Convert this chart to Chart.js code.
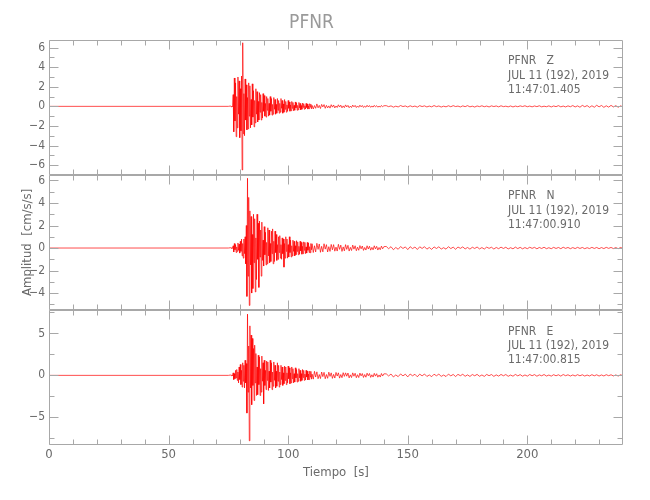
<!DOCTYPE html>
<html>
<head>
<meta charset="utf-8">
<title>PFNR</title>
<script src="https://cdn.jsdelivr.net/npm/chart.js@4.4.1/dist/chart.umd.min.js"></script>
<style>
  body { margin: 0; background: #fff; }
  #wrap { width: 650px; height: 500px; }
</style>
</head>
<body>
<div id="wrap"><canvas id="seis" width="650" height="500"></canvas></div>
<script>
'use strict';

// sampling grid of the hand-read traces (seconds)
const quietTimes = [0, 75];
const strongStart = 76, strongStep = 0.25;  // 76 .. 110 s
const midStart = 110.5, midStep = 0.5;      // 110.5 .. 140 s
const tailStart = 141, tailStep = 1;        // 141 .. 240 s

// component Z, amplitude in cm/s/s
const zStrong = [
  0.04, -0.05, 0.03, -0.04, 1.2, -2.6, 2.9, -1.5, 2.4, -3.1, 1.0, -2.2,
  3.0, -0.8, 2.6, -3.2, 1.8, -2.5, 3.1, -6.5, 6.5, -2.8, 1.3, -3.0,
  2.8, -1.4, 2.2, -2.4, 0.9, -2.3, 2.4, -1.0, 2.1, -2.2, 0.7, -1.9,
  2.3, -1.1, 1.6, -2.1, 0.6, -1.7, 1.8, -0.8, 1.5, -1.6, 0.5, -1.4,
  1.4, -0.6, 1.2, -1.4, 0.4, -1.2, 1.3, -0.5, 1.1, -1.0, 0.3, -1.1,
  1.0, -0.4, 0.8, -1.0, 0.3, -0.9, 1.0, -0.5, 0.8, -0.9, 0.2, -0.8,
  0.9, -0.3, 0.7, -0.8, 0.2, -0.7, 0.8, -0.4, 0.6, -0.7, 0.3, -0.6,
  0.8, -0.2, 0.6, -0.7, 0.25, -0.6, 0.7, -0.3, 0.5, -0.6, 0.15, -0.5,
  0.6, -0.2, 0.45, -0.5, 0.15, -0.45, 0.5, -0.2, 0.4, -0.45, 0.1, -0.4,
  0.45, -0.15, 0.35, -0.4, 0.1, -0.35, 0.4, -0.15, 0.3, -0.35, 0.08, -0.3,
  0.33, -0.1, 0.28, -0.3, 0.06, -0.27, 0.3, -0.12, 0.25, -0.28, 0.05, -0.24,
  0.27, -0.08, 0.22, -0.25, 0.1
];
const zMid = [
  -0.27, 0.08, -0.2, 0.25, -0.15, 0.1, -0.22,
  0.2, -0.06, 0.18, -0.2, 0.1, -0.16, 0.05, -0.18, 0.17, -0.08,
  0.14, -0.16, 0.04, -0.12, 0.16, -0.07, 0.12, -0.15, 0.05, -0.13,
  0.15, -0.06, 0.1, -0.14, 0.03, -0.12, 0.13, -0.05, 0.1, -0.12,
  0.04, -0.1, 0.12, -0.05, 0.09, -0.11, 0.03, -0.09, 0.11, -0.06,
  0.08, -0.1, 0.04, -0.08, 0.1, -0.05, 0.07, -0.09, 0.03, -0.08,
  0.09, -0.04, 0.06
];
const zTail = [
  0.07, -0.03, 0.05, -0.08, 0.02, -0.06, 0.08, -0.02, 0.04, -0.07,
  0.06, -0.04, 0.03, -0.08, 0.07, -0.02, 0.05, -0.06, 0.03, -0.05,
  0.08, -0.03, 0.04, -0.07, 0.02, -0.05, 0.06, -0.04, 0.07, -0.02,
  0.03, -0.06, 0.05, -0.03, 0.07, -0.05, 0.02, -0.07, 0.04, -0.03,
  0.06, -0.04, 0.03, -0.06, 0.05, -0.02, 0.04, -0.05, 0.06, -0.03,
  0.02, -0.05, 0.04, -0.06, 0.03, -0.04, 0.05, -0.02, 0.06, -0.04,
  0.03, -0.05, 0.04, -0.03, 0.06, -0.05, 0.02, -0.04, 0.05, -0.06,
  0.04, -0.03, 0.07, -0.05, 0.03, -0.06, 0.05, -0.04, 0.08, -0.06,
  0.05, -0.09, 0.1, -0.04, 0.08, -0.1, 0.06, -0.09, 0.11, -0.05,
  0.09, -0.1, 0.06, -0.08, 0.1, -0.06, 0.07, -0.09, 0.05, -0.06
];

// component N
const nStrong = [
  0.03, -0.04, 0.05, -0.03, 0.2, -0.35, 0.4, -0.15, 0.3, -0.4, 0.1, -0.3,
  0.45, -0.2, 0.35, -0.45, 0.6, -0.3, 0.8, -0.7, 0.4, -0.9, 0.8, -0.5,
  1.0, -1.4, 2.0, -4.3, 6.2, -2.5, 4.5, -5.1, 3.3, -1.5, 2.8, -4.0,
  1.2, -3.6, 3.0, -1.3, 2.6, -3.9, 0.9, -2.8, 3.0, -1.0, 2.2, -3.5,
  2.4, -0.8, 1.6, -2.5, 2.3, -1.1, 0.7, -1.6, 1.9, -0.6, 1.4, -1.5,
  0.5, -1.4, 1.8, -0.7, 1.6, -1.3, 0.4, -1.2, 1.5, -0.5, 1.7, -1.4,
  0.6, -1.2, 1.5, -0.4, 1.2, -1.1, 0.3, -1.0, 1.0, -0.4, 1.1, -0.9,
  0.3, -1.0, 0.9, -0.5, 0.8, -1.7, 0.4, -0.9, 1.0, -0.3, 0.8, -0.9,
  0.3, -0.8, 1.0, -0.4, 0.7, -0.8, 0.2, -0.7, 0.7, -0.3, 0.6, -0.7,
  0.2, -0.6, 0.65, -0.3, 0.55, -0.6, 0.15, -0.55, 0.6, -0.25, 0.5, -0.55,
  0.15, -0.5, 0.55, -0.2, 0.5, -0.5, 0.1, -0.45, 0.5, -0.2, 0.45, -0.4,
  0.12, -0.42, 0.4, -0.15, 0.38
];
const nMid = [
  -0.4, 0.2, -0.35, 0.42, -0.12, 0.36, -0.38,
  0.15, -0.34, 0.38, -0.1, 0.3, -0.35, 0.12, -0.3, 0.32, -0.16,
  0.3, -0.28, 0.08, -0.27, 0.33, -0.12, 0.26, -0.3, 0.1, -0.25,
  0.3, -0.12, 0.24, -0.27, 0.06, -0.22, 0.26, -0.1, 0.2, -0.24,
  0.08, -0.2, 0.22, -0.07, 0.18, -0.21, 0.05, -0.18, 0.2, -0.09,
  0.16, -0.19, 0.06, -0.16, 0.2, -0.08, 0.15, -0.18, 0.05, -0.15,
  0.17, -0.07, 0.12
];
const nTail = [
  0.14, -0.06, 0.12, -0.15, 0.05, -0.11, 0.13, -0.04, 0.1, -0.14,
  0.12, -0.05, 0.09, -0.13, 0.11, -0.04, 0.12, -0.1, 0.05, -0.12,
  0.1, -0.04, 0.11, -0.09, 0.03, -0.1, 0.12, -0.05, 0.08, -0.11,
  0.09, -0.03, 0.1, -0.08, 0.05, -0.1, 0.07, -0.04, 0.09, -0.08,
  0.04, -0.09, 0.08, -0.03, 0.07, -0.09, 0.05, -0.06, 0.08, -0.04,
  0.07, -0.08, 0.03, -0.07, 0.08, -0.05, 0.06, -0.07, 0.04, -0.06,
  0.07, -0.03, 0.06, -0.07, 0.05, -0.04, 0.07, -0.06, 0.03, -0.06,
  0.06, -0.04, 0.05, -0.06, 0.07, -0.03, 0.05, -0.06, 0.04, -0.05,
  0.06, -0.04, 0.05, -0.06, 0.03, -0.05, 0.06, -0.04, 0.05, -0.06,
  0.04, -0.05, 0.06, -0.03, 0.05, -0.05, 0.04, -0.06, 0.05, -0.04
];

// component E
const eStrong = [
  0.05, -0.04, 0.06, -0.05, 0.3, -0.5, 0.2, -0.4, 0.6, -0.3, 0.7, -0.6,
  0.4, -0.9, 1.0, -0.5, 1.3, -1.1, 0.6, -1.4, 1.5, -0.7, 1.2, -1.5,
  1.8, -0.9, 1.4, -4.5, 7.3, -2.0, 3.5, -7.8, 5.9, -1.5, 4.8, -3.5,
  4.4, -1.2, 3.2, -3.0, 3.6, -0.9, 2.6, -2.4, 1.0, -2.3, 2.4, -1.1,
  2.2, -2.4, 0.8, -2.0, 2.3, -0.7, 1.5, -3.4, 1.8, -1.2, 0.6, -1.7,
  1.7, -0.6, 1.6, -1.8, 0.5, -1.5, 1.8, -0.8, 1.5, -1.7, 0.4, -1.3,
  1.6, -0.6, 1.2, -1.5, 0.5, -1.3, 1.5, -0.7, 1.2, -1.4, 0.4, -1.1,
  1.2, -0.5, 1.0, -1.2, 0.3, -1.0, 1.1, -0.6, 1.0, -1.1, 0.3, -0.9,
  1.1, -0.4, 0.9, -1.0, 0.3, -0.9, 1.0, -0.4, 0.8, -0.9, 0.2, -0.8,
  0.9, -0.3, 0.7, -0.8, 0.2, -0.7, 0.8, -0.3, 0.6, -0.7, 0.2, -0.6,
  0.7, -0.25, 0.6, -0.6, 0.15, -0.55, 0.6, -0.2, 0.5, -0.55, 0.15, -0.5,
  0.5, -0.2, 0.48, -0.45, 0.15
];
const eMid = [
  -0.45, 0.48, -0.2, 0.42, -0.4, 0.1, -0.38,
  0.4, -0.15, 0.36, -0.4, 0.1, -0.35, 0.38, -0.12, 0.3, -0.36,
  0.12, -0.32, 0.35, -0.08, 0.3, -0.33, 0.1, -0.28, 0.32, -0.12,
  0.3, -0.1, 0.28, -0.3, 0.06, -0.26, 0.3, -0.1, 0.25, -0.28,
  0.08, -0.26, 0.27, -0.06, 0.22, -0.25, 0.1, -0.22, 0.26, -0.05,
  0.22, -0.24, 0.07, -0.2, 0.24, -0.09, 0.2, -0.22, 0.05, -0.2,
  0.22, -0.08, 0.18
];
const eTail = [
  0.18, -0.07, 0.16, -0.19, 0.05, -0.15, 0.17, -0.06, 0.14, -0.18,
  0.16, -0.05, 0.13, -0.17, 0.15, -0.06, 0.16, -0.13, 0.05, -0.15,
  0.14, -0.05, 0.15, -0.12, 0.04, -0.14, 0.15, -0.06, 0.11, -0.14,
  0.12, -0.04, 0.13, -0.11, 0.06, -0.13, 0.1, -0.05, 0.12, -0.11,
  0.05, -0.12, 0.11, -0.04, 0.1, -0.12, 0.06, -0.09, 0.11, -0.05,
  0.1, -0.11, 0.04, -0.1, 0.11, -0.06, 0.09, -0.1, 0.05, -0.09,
  0.1, -0.04, 0.09, -0.1, 0.06, -0.05, 0.1, -0.08, 0.04, -0.09,
  0.08, -0.05, 0.07, -0.09, 0.1, -0.04, 0.07, -0.08, 0.05, -0.07,
  0.08, -0.05, 0.07, -0.08, 0.04, -0.07, 0.08, -0.05, 0.07, -0.08,
  0.05, -0.07, 0.08, -0.04, 0.07, -0.07, 0.05, -0.08, 0.07, -0.05
];

// axis ticks
const xTickValues = [0, 50, 100, 150, 200];
const xMinorValues = [10, 20, 30, 40, 60, 70, 80, 90, 110, 120, 130, 140, 160, 170, 180, 190, 210, 220, 230];
const zTickValues = [-6, -4, -2, 0, 2, 4, 6];
const zMinorValues = [-5, -3, -1, 1, 3, 5];
const nTickValues = [-4, -2, 0, 2, 4, 6];
const nMinorValues = [-5, -3, -1, 1, 3, 5];
const eTickValues = [-5, 0, 5];
const eMinorValues = [-7.5, -2.5, 2.5, 7.5];

// station header text for each trace
const zHeader = ['PFNR   Z', 'JUL 11 (192), 2019', '11:47:01.405'];
const nHeader = ['PFNR   N', 'JUL 11 (192), 2019', '11:47:00.910'];
const eHeader = ['PFNR   E', 'JUL 11 (192), 2019', '11:47:00.815'];

const FONT = "'Liberation Sans Narrow', 'DejaVu Sans Condensed', sans-serif";
const AXIS = '#a8a8a8';
const TEXT = '#6a6a6a';

function toPoints(strong, mid, tail) {
  const pts = quietTimes.map(t => ({x: t, y: 0}));
  strong.forEach((v, i) => pts.push({x: strongStart + i * strongStep, y: v}));
  mid.forEach((v, i) => pts.push({x: midStart + i * midStep, y: v}));
  tail.forEach((v, i) => pts.push({x: tailStart + i * tailStep, y: v}));
  return pts;
}

const panels = [
  {id: 'yZ', major: zTickValues, minor: zMinorValues, header: zHeader},
  {id: 'yN', major: nTickValues, minor: nMinorValues, header: nHeader},
  {id: 'yE', major: eTickValues, minor: eMinorValues, header: eHeader},
];

const minusSign = v => String(v).replace('-', '\u2212');

function yAxis(min, max, ticks, weight, title) {
  return {
    type: 'linear',
    position: 'left',
    stack: 'traces',
    stackWeight: 1,
    weight: weight,
    min: min,
    max: max,
    afterBuildTicks: s => { s.ticks = ticks.map(v => ({value: v})); },
    afterFit: s => { s.width = 49; },
    grid: {display: false, drawTicks: false},
    border: {display: false},
    ticks: {color: TEXT, font: {family: FONT, size: 12}, padding: 4, autoSkip: false, callback: minusSign},
    title: title ? {
      display: true, text: title, color: TEXT,
      font: {family: FONT, size: 13}, padding: {top: 20, bottom: 0}
    } : {display: false},
  };
}

// frame, inward tick marks and station labels for each panel
const framePlugin = {
  id: 'frame',
  afterDraw(chart) {
    const {ctx, chartArea} = chart;
    const xs = chart.scales.x;
    const px = v => Math.round(v) + 0.5;
    const L = px(chartArea.left), R = px(chartArea.right - 1);
    ctx.save();
    ctx.strokeStyle = AXIS;
    ctx.lineWidth = 1;
    panels.forEach(p => {
      const s = chart.scales[p.id];
      const T = px(s.top), B = px(s.bottom - 1);
      ctx.beginPath();
      ctx.rect(L, T, R - L, B - T);
      const yTick = (v, len) => {
        const y = px(s.getPixelForValue(v));
        ctx.moveTo(L, y); ctx.lineTo(L + len, y);
        ctx.moveTo(R, y); ctx.lineTo(R - len, y);
      };
      const xTick = (v, len) => {
        const x = px(xs.getPixelForValue(v));
        ctx.moveTo(x, T); ctx.lineTo(x, T + len);
        ctx.moveTo(x, B); ctx.lineTo(x, B - len);
      };
      p.major.forEach(v => yTick(v, 9));
      p.minor.forEach(v => yTick(v, 5));
      xTickValues.forEach(v => xTick(v, 9));
      xMinorValues.forEach(v => xTick(v, 5));
      ctx.stroke();

      ctx.fillStyle = TEXT;
      ctx.font = '12px ' + FONT;
      ctx.textBaseline = 'middle';
      ctx.textAlign = 'left';
      p.header.forEach((line, k) => {
        ctx.fillText(line, 508, s.top + 21.5 + k * 14.2);
      });
    });
    ctx.restore();
  }
};

const trace = (data, axis) => ({
  data: data,
  yAxisID: axis,
  borderColor: 'rgb(255,0,0)',
  borderWidth: 0.7,
  pointRadius: 0,
  tension: 0,
  fill: false,
});

new Chart(document.getElementById('seis'), {
  type: 'line',
  data: {
    datasets: [
      trace(toPoints(zStrong, zMid, zTail), 'yZ'),
      trace(toPoints(nStrong, nMid, nTail), 'yN'),
      trace(toPoints(eStrong, eMid, eTail), 'yE'),
    ]
  },
  options: {
    responsive: false,
    animation: false,
    parsing: false,
    layout: {padding: {left: 0, right: 27, top: 0, bottom: 0}},
    plugins: {
      legend: {display: false},
      tooltip: {enabled: false},
      title: {
        display: true,
        text: 'PFNR',
        color: '#9a9a9a',
        font: {family: FONT, size: 19, weight: 'normal'},
        padding: {top: 12, bottom: 5}
      }
    },
    scales: {
      x: {
        type: 'linear',
        position: 'bottom',
        min: 0,
        max: 240,
        afterBuildTicks: s => { s.ticks = xTickValues.map(v => ({value: v})); },
        afterFit: s => { s.height = 55; },
        grid: {display: false, drawTicks: false},
        border: {display: false},
        ticks: {color: TEXT, font: {family: FONT, size: 13}, padding: 2, maxRotation: 0},
        title: {
          display: true, text: 'Tiempo  [s]', color: TEXT,
          font: {family: FONT, size: 13}, padding: {top: 0, bottom: 20}
        }
      },
      yZ: yAxis(-7.0, 6.8, zTickValues, 3),
      yN: yAxis(-5.5, 6.5, nTickValues, 2, 'Amplitud  [cm/s/s]'),
      yE: yAxis(-8.3, 7.8, eTickValues, 1),
    }
  },
  plugins: [framePlugin]
});
</script>
</body>
</html>
